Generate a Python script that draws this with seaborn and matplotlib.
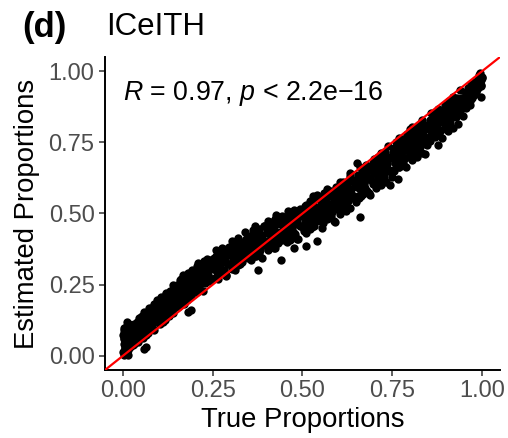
import matplotlib
matplotlib.use("Agg")
import matplotlib.pyplot as plt
import seaborn as sns
import pandas as pd

# ---- data ----
x0 = [0.002,0.005,0.008,0.010,0.012,0.015,0.003,0.006,0.009,0.013,
      0.017,0.020,0.001,0.004,0.007,0.011,0.014,0.018,0.022,0.025,
      0.002,0.006,0.010,0.015,0.019,0.003,0.008,0.012,0.016,0.021,
      0.001,0.005,0.009,0.013,0.017,0.024,0.004,0.007,0.011,0.020,
      0.002,0.004,0.006,0.008,0.010,0.012,0.014,0.016,0.018,0.020,
      0.023,0.026,0.029,0.032,0.035,0.038,0.041,0.044,0.047,0.049]
y0 = [0.004,0.030,0.061,0.012,0.083,0.047,0.092,0.021,0.070,0.038,
      0.056,0.078,0.015,0.099,0.044,0.066,0.027,0.088,0.052,0.074,
      0.058,0.008,0.035,0.095,0.064,0.041,0.018,0.085,0.110,0.032,
      0.072,0.050,0.102,0.001,0.042,0.063,0.080,0.026,0.118,0.090,
      0.017,0.061,0.087,0.036,0.060,0.086,0.022,0.083,0.057,0.107,
      0.045,0.082,0.037,0.110,0.071,0.109,0.058,0.108,0.095,0.135]
x1 = [0.027,0.030,0.032,0.035,0.038,0.040,0.042,0.045,0.047,0.050,
      0.052,0.055,0.057,0.060,0.062,0.065,0.067,0.070,0.072,0.074,
      0.029,0.034,0.039,0.044,0.049,0.054,0.059,0.064,0.069,0.073,
      0.058,0.065,
      0.052,0.054,0.055,0.057,0.059,0.061,0.062,0.064,0.066,0.068,
      0.070,0.073,0.075,0.077,0.080,0.083,0.086,0.089,0.092,0.096]
y1 = [0.060,0.105,0.040,0.088,0.120,0.068,0.050,0.132,0.095,0.075,
      0.140,0.062,0.110,0.085,0.150,0.098,0.122,0.080,0.160,0.108,
      0.092,0.055,0.115,0.070,0.128,0.090,0.145,0.076,0.118,0.168,
      0.025,0.030,
      0.096,0.129,0.072,0.118,0.154,0.092,0.115,0.074,0.136,0.152,
      0.110,0.131,0.102,0.168,0.130,0.150,0.092,0.165,0.130,0.180]
x2 = [0.077,0.080,0.083,0.086,0.089,0.092,0.095,0.098,0.101,0.104,
      0.107,0.110,0.113,0.116,0.119,0.122,0.125,0.128,0.131,0.134,
      0.137,0.140,0.143,0.146,0.149,0.082,0.094,0.109,0.124,0.139,
      0.102,0.104,0.105,0.107,0.109,0.111,0.112,0.114,0.116,0.118,
      0.120,0.123,0.125,0.127,0.130,0.133,0.136,0.139,0.142,0.146]
y2 = [0.165,0.100,0.140,0.182,0.118,0.150,0.195,0.128,0.172,0.110,
      0.205,0.145,0.180,0.125,0.218,0.160,0.192,0.140,0.228,0.170,
      0.205,0.152,0.240,0.185,0.220,0.128,0.170,0.195,0.150,0.188,
      0.178,0.128,0.166,0.151,0.202,0.119,0.182,0.168,0.203,0.151,
      0.219,0.172,0.195,0.147,0.213,0.175,0.197,0.247,0.175,0.214]
x3 = [0.151,0.154,0.157,0.160,0.163,0.166,0.169,0.172,0.175,0.178,
      0.181,0.184,0.187,0.190,0.193,0.196,0.199,0.202,0.205,0.208,
      0.212,0.216,0.220,0.224,0.228,0.232,0.236,0.240,0.244,0.248,
      0.210,0.225,0.180,0.190,
      0.152,0.154,0.155,0.157,0.159,0.161,0.162,0.164,0.166,0.168,
      0.170,0.173,0.175,0.177,0.180,0.183,0.186,0.189,0.192,0.196,
      0.202,0.204,0.205,0.207,0.209,0.211,0.212,0.214,0.216,0.218,
      0.220,0.223,0.225,0.227,0.230,0.233,0.236,0.239,0.242,0.246]
y3 = [0.250,0.182,0.225,0.268,0.200,0.240,0.280,0.215,0.258,0.195,
      0.290,0.232,0.270,0.212,0.300,0.248,0.285,0.225,0.310,0.262,
      0.240,0.298,0.275,0.320,0.255,0.305,0.285,0.335,0.270,0.318,
      0.325,0.334,0.155,0.162,
      0.172,0.224,0.248,0.195,0.214,0.269,0.192,0.244,0.214,0.285,
      0.183,0.233,0.261,0.220,0.279,0.208,0.261,0.243,0.295,0.230,
      0.275,0.244,0.317,0.223,0.297,0.262,0.236,0.315,0.281,0.254,
      0.299,0.228,0.319,0.286,0.261,0.339,0.282,0.323,0.263,0.313]
x4 = [0.252,0.256,0.260,0.264,0.268,0.272,0.276,0.280,0.284,0.288,
      0.292,0.296,0.300,0.304,0.308,0.312,0.316,0.320,0.324,0.328,
      0.332,0.336,0.340,0.344,0.348,0.258,0.274,0.290,0.306,0.322,
      0.252,0.254,0.255,0.257,0.259,0.261,0.262,0.264,0.266,0.268,
      0.270,0.273,0.275,0.277,0.280,0.283,0.286,0.289,0.292,0.296,
      0.302,0.304,0.305,0.307,0.309,0.311,0.312,0.314,0.316,0.318,
      0.320,0.323,0.325,0.327,0.330,0.333,0.336,0.339,0.342,0.346]
y4 = [0.340,0.275,0.315,0.358,0.290,0.330,0.370,0.300,0.345,0.285,
      0.380,0.322,0.355,0.305,0.390,0.338,0.372,0.318,0.400,0.350,
      0.328,0.392,0.365,0.410,0.345,0.352,0.298,0.362,0.332,0.385,
      0.304,0.344,0.272,0.328,0.372,0.294,0.323,0.270,0.345,0.364,
      0.311,0.336,0.297,0.379,0.330,0.354,0.279,0.368,0.324,0.383,
      0.376,0.316,0.360,0.341,0.400,0.302,0.375,0.358,0.396,0.335,
      0.414,0.356,0.382,0.324,0.400,0.354,0.377,0.435,0.348,0.391]
x5 = [0.352,0.356,0.360,0.364,0.368,0.372,0.376,0.380,0.384,0.388,
      0.392,0.396,0.400,0.404,0.408,0.412,0.416,0.420,0.424,0.428,
      0.432,0.436,0.440,0.444,0.448,0.365,0.375,0.425,0.440,0.305,
      0.352,0.354,0.355,0.357,0.359,0.361,0.362,0.364,0.366,0.368,
      0.370,0.373,0.375,0.377,0.380,0.383,0.386,0.389,0.392,0.396,
      0.402,0.404,0.405,0.407,0.409,0.411,0.412,0.414,0.416,0.418,
      0.420,0.423,0.425,0.427,0.430,0.433,0.436,0.439,0.442,0.446]
y5 = [0.410,0.335,0.380,0.428,0.350,0.398,0.440,0.362,0.415,0.345,
      0.455,0.390,0.430,0.372,0.468,0.405,0.445,0.380,0.480,0.420,
      0.395,0.462,0.435,0.492,0.415,0.433,0.300,0.493,0.335,0.405,
      0.346,0.398,0.422,0.368,0.386,0.441,0.363,0.415,0.384,0.455,
      0.352,0.401,0.429,0.387,0.445,0.373,0.425,0.406,0.457,0.391,
      0.434,0.402,0.475,0.380,0.453,0.418,0.391,0.469,0.435,0.407,
      0.451,0.379,0.469,0.435,0.409,0.486,0.428,0.467,0.406,0.455]
x6 = [0.452,0.456,0.460,0.464,0.468,0.472,0.476,0.480,0.484,0.488,
      0.492,0.496,0.500,0.504,0.508,0.512,0.516,0.520,0.524,0.528,
      0.532,0.536,0.540,0.544,0.548,0.467,0.475,0.510,0.530,0.540,
      0.452,0.454,0.455,0.457,0.459,0.461,0.462,0.464,0.466,0.468,
      0.470,0.473,0.475,0.477,0.480,0.483,0.486,0.489,0.492,0.496,
      0.502,0.504,0.505,0.507,0.509,0.511,0.512,0.514,0.516,0.518,
      0.520,0.523,0.525,0.527,0.530,0.533,0.536,0.539,0.542,0.546]
y6 = [0.470,0.400,0.445,0.490,0.418,0.462,0.505,0.428,0.478,0.410,
      0.515,0.455,0.492,0.438,0.528,0.470,0.508,0.445,0.540,0.482,
      0.455,0.522,0.498,0.550,0.475,0.500,0.377,0.387,0.563,0.405,
      0.443,0.483,0.411,0.466,0.510,0.432,0.460,0.407,0.482,0.501,
      0.447,0.472,0.432,0.513,0.464,0.488,0.412,0.500,0.455,0.514,
      0.506,0.446,0.490,0.471,0.530,0.432,0.505,0.488,0.526,0.465,
      0.544,0.486,0.512,0.454,0.530,0.484,0.507,0.565,0.478,0.521]
x7 = [0.552,0.556,0.560,0.564,0.568,0.572,0.576,0.580,0.584,0.588,
      0.592,0.596,0.600,0.604,0.608,0.612,0.616,0.620,0.624,0.628,
      0.632,0.636,0.640,0.644,0.648,0.633,0.653,0.660,0.555,0.590,
      0.552,0.554,0.555,0.557,0.559,0.561,0.562,0.564,0.566,0.568,
      0.570,0.573,0.575,0.577,0.580,0.583,0.586,0.589,0.592,0.596,
      0.602,0.604,0.605,0.607,0.609,0.611,0.612,0.614,0.616,0.618,
      0.620,0.623,0.625,0.627,0.630,0.633,0.636,0.639,0.642,0.646]
y7 = [0.530,0.468,0.505,0.548,0.480,0.520,0.562,0.490,0.535,0.472,
      0.575,0.515,0.552,0.498,0.588,0.530,0.570,0.508,0.598,0.545,
      0.520,0.585,0.560,0.610,0.540,0.644,0.676,0.486,0.450,0.470,
      0.477,0.528,0.552,0.499,0.517,0.572,0.495,0.546,0.516,0.586,
      0.484,0.533,0.561,0.520,0.578,0.506,0.559,0.540,0.592,0.526,
      0.570,0.539,0.612,0.517,0.591,0.556,0.530,0.609,0.574,0.547,
      0.592,0.521,0.612,0.578,0.553,0.631,0.573,0.614,0.554,0.603]
x8 = [0.652,0.656,0.660,0.664,0.668,0.672,0.676,0.680,0.684,0.688,
      0.692,0.696,0.700,0.704,0.708,0.712,0.716,0.720,0.724,0.728,
      0.732,0.736,0.740,0.744,0.748,0.744,0.700,0.730,0.680,0.720,
      0.652,0.654,0.655,0.657,0.659,0.661,0.662,0.664,0.666,0.668,
      0.670,0.673,0.675,0.677,0.680,0.683,0.686,0.689,0.692,0.696,
      0.702,0.704,0.705,0.707,0.709,0.711,0.712,0.714,0.716,0.718,
      0.720,0.723,0.725,0.727,0.730,0.733,0.736,0.739,0.742,0.746]
y8 = [0.620,0.555,0.595,0.640,0.570,0.610,0.652,0.580,0.625,0.565,
      0.665,0.605,0.642,0.590,0.678,0.620,0.660,0.600,0.690,0.635,
      0.612,0.675,0.650,0.700,0.630,0.600,0.690,0.715,0.668,0.700,
      0.594,0.635,0.563,0.618,0.663,0.585,0.614,0.562,0.636,0.656,
      0.603,0.629,0.590,0.671,0.623,0.648,0.572,0.662,0.618,0.677,
      0.672,0.612,0.656,0.637,0.697,0.599,0.673,0.656,0.694,0.633,
      0.713,0.656,0.682,0.624,0.701,0.656,0.679,0.738,0.652,0.695]
x9 = [0.752,0.756,0.760,0.764,0.768,0.772,0.776,0.780,0.784,0.788,
      0.792,0.796,0.800,0.804,0.808,0.812,0.816,0.820,0.824,0.828,
      0.832,0.836,0.840,0.844,0.848,0.767,0.800,0.840,0.790,0.830,
      0.752,0.754,0.755,0.757,0.759,0.761,0.762,0.764,0.766,0.768,
      0.770,0.773,0.775,0.777,0.780,0.783,0.786,0.789,0.792,0.796,
      0.802,0.804,0.805,0.807,0.809,0.811,0.812,0.814,0.816,0.818,
      0.820,0.823,0.825,0.827,0.830,0.833,0.836,0.839,0.842,0.846]
y9 = [0.715,0.650,0.690,0.735,0.665,0.705,0.748,0.678,0.722,0.662,
      0.760,0.700,0.740,0.688,0.775,0.718,0.758,0.700,0.790,0.735,
      0.712,0.785,0.760,0.805,0.742,0.623,0.798,0.710,0.770,0.818,
      0.652,0.704,0.729,0.676,0.695,0.750,0.673,0.725,0.696,0.767,
      0.665,0.715,0.744,0.703,0.762,0.691,0.745,0.727,0.779,0.715,
      0.760,0.729,0.803,0.709,0.783,0.748,0.722,0.801,0.768,0.741,
      0.786,0.715,0.807,0.774,0.749,0.827,0.771,0.812,0.752,0.803]
x10 = [0.852,0.856,0.860,0.864,0.868,0.872,0.876,0.880,0.884,0.888,
       0.892,0.896,0.900,0.904,0.908,0.912,0.916,0.920,0.924,0.928,
       0.932,0.936,0.940,0.944,0.948,0.864,0.878,0.890,0.900,0.920,
       0.852,0.854,0.855,0.857,0.859,0.861,0.862,0.864,0.866,0.868,
       0.870,0.873,0.875,0.877,0.880,0.883,0.886,0.889,0.892,0.896,
       0.902,0.904,0.905,0.907,0.909,0.911,0.912,0.914,0.916,0.918,
       0.920,0.923,0.925,0.927,0.930,0.933,0.936,0.939,0.942,0.946]
y10 = [0.815,0.755,0.790,0.835,0.768,0.805,0.848,0.780,0.822,0.765,
       0.860,0.800,0.842,0.790,0.875,0.818,0.858,0.802,0.890,0.838,
       0.815,0.885,0.860,0.905,0.842,0.780,0.740,0.863,0.810,0.910,
       0.796,0.829,0.772,0.818,0.854,0.792,0.815,0.774,0.836,0.852,
       0.810,0.831,0.802,0.868,0.830,0.850,0.792,0.865,0.830,0.880,
       0.875,0.833,0.864,0.852,0.895,0.827,0.879,0.868,0.896,0.853,
       0.910,0.871,0.890,0.850,0.905,0.875,0.892,0.935,0.875,0.907]
x11 = [0.951,0.954,0.957,0.960,0.963,0.966,0.969,0.972,0.975,0.978,
       0.981,0.984,0.987,0.990,0.993,0.996,0.999,0.967,0.975,0.985,
       0.992,0.998,0.960,0.980,0.995,0.988,0.970,0.990,1.000,0.997,
       0.952,0.954,0.955,0.957,0.959,0.961,0.962,0.964,0.966,0.968,
       0.970,0.973,0.975,0.977,0.980,0.983,0.986,0.989,0.992,0.996]
y11 = [0.905,0.870,0.918,0.885,0.930,0.895,0.940,0.905,0.948,0.918,
       0.955,0.930,0.962,0.942,0.970,0.952,0.978,0.880,0.925,0.945,
       0.985,0.968,0.915,0.938,0.993,0.958,0.928,0.975,0.975,0.908,
       0.887,0.915,0.927,0.902,0.914,0.942,0.904,0.932,0.918,0.955,
       0.906,0.933,0.948,0.929,0.961,0.928,0.956,0.949,0.976,0.947]

true_prop = x0 + x1 + x2 + x3 + x4 + x5 + x6 + x7 + x8 + x9 + x10 + x11
est_prop = y0 + y1 + y2 + y3 + y4 + y5 + y6 + y7 + y8 + y9 + y10 + y11

ticks = [0.00, 0.25, 0.50, 0.75, 1.00]
tick_labels = ["0.00", "0.25", "0.50", "0.75", "1.00"]
title_tag = "(d)"
title_text = "ICeITH"
annot = "$R$ = 0.97, $p$ < 2.2e\u221216"

df = pd.DataFrame({"True Proportions": true_prop, "Estimated Proportions": est_prop})

sns.set_theme(style="white")
plt.rcParams["font.family"] = ["Liberation Sans", "DejaVu Sans"]
plt.rcParams["mathtext.fontset"] = "custom"
plt.rcParams["mathtext.rm"] = "Liberation Sans"
plt.rcParams["mathtext.it"] = "Liberation Sans:italic"

fig = plt.figure(figsize=(5.08, 4.38), dpi=100)
ax = fig.add_axes([105/508, 68/438, 395/508, 313/438])

sns.scatterplot(data=df, x="True Proportions", y="Estimated Proportions",
                color="black", s=36, linewidth=0, ax=ax, zorder=2)
ax.axline((0, 0), slope=1, color="#FF0000", linewidth=1.6, zorder=3)

ax.set_xlim(-0.05, 1.05)
ax.set_ylim(-0.05, 1.05)
ax.set_xticks(ticks)
ax.set_xticklabels(tick_labels)
ax.set_yticks(ticks)
ax.set_yticklabels(tick_labels)
ax.tick_params(axis="both", labelsize=17, labelcolor="#4D4D4D", color="#333333",
               length=4, width=1.1, direction="out", bottom=True, left=True, pad=3.5)
for side in ["top", "right"]:
    ax.spines[side].set_visible(False)
for side in ["left", "bottom"]:
    ax.spines[side].set_color("black")
    ax.spines[side].set_linewidth(1.4)
ax.set_xlabel("True Proportions", fontsize=19.8, color="black", labelpad=3)
ax.set_ylabel("Estimated Proportions", fontsize=19.8, color="black", labelpad=6)

fig.text(22/508, 1 - 27/438, title_tag, fontsize=25, fontweight="bold",
         color="black", va="center", ha="left")
fig.text(106/508, 1 - 27/438, title_text, fontsize=22.5, color="black",
         va="center", ha="left")
ax.text(0.0, 0.92, annot, fontsize=19.3, color="black", va="center", ha="left",
        transform=ax.transData)

fig.savefig("out.png", dpi=100)
